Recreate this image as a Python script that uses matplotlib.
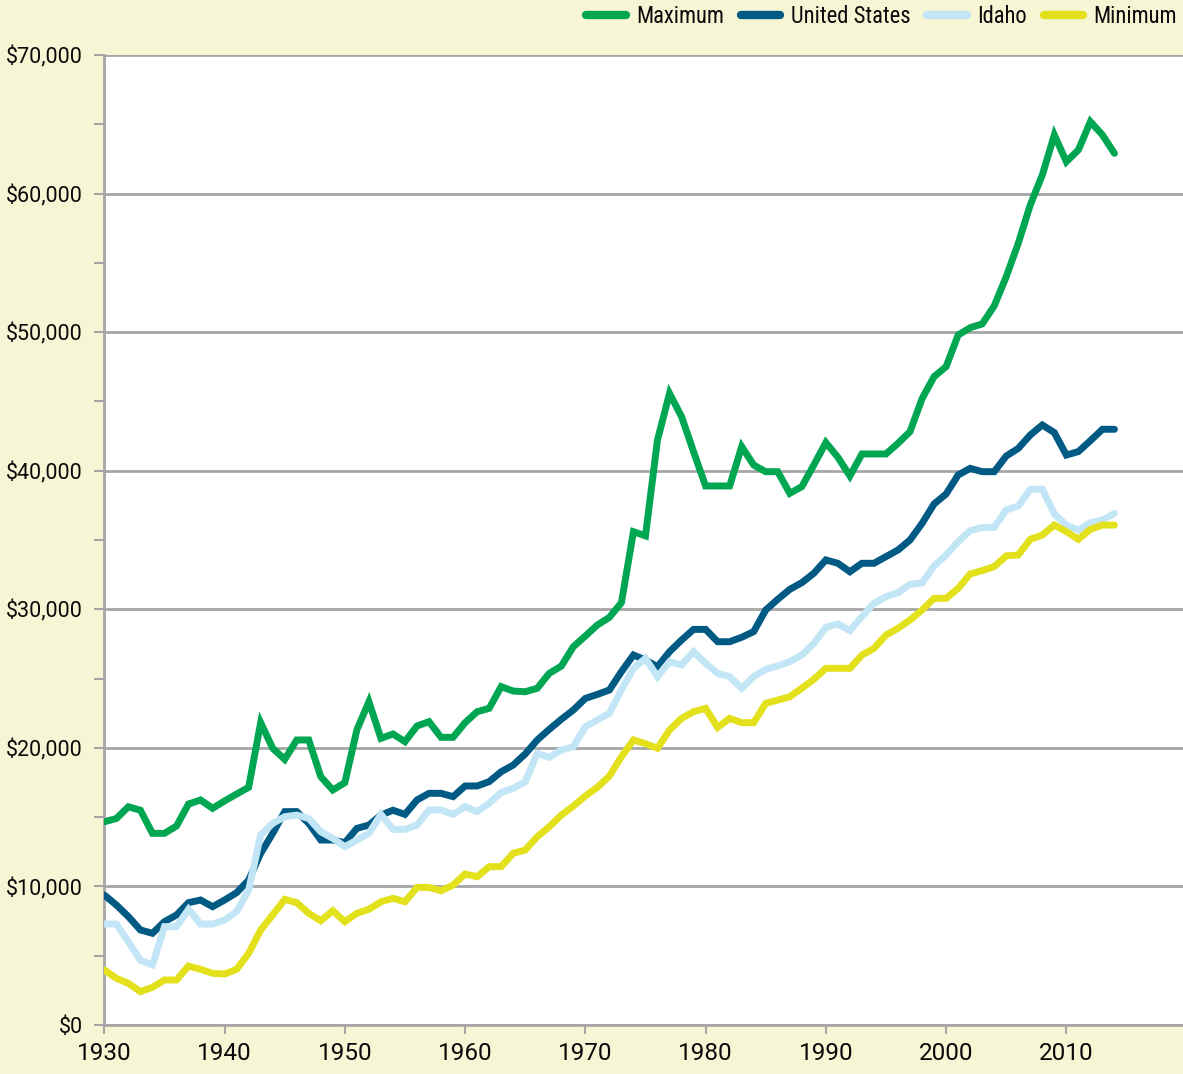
import numpy as np
import matplotlib
matplotlib.use("Agg")
import matplotlib.pyplot as plt
from matplotlib import font_manager
from matplotlib.ticker import MultipleLocator, StrMethodFormatter

# Jahreswerte 1930-2014, in Tausend Dollar
years = np.arange(1930, 2015)

maximum_k = [14.67, 14.9, 15.75, 15.5, 13.83, 13.83, 14.36, 15.95, 16.24, 15.64,
             16.17, 16.67, 17.15, 21.82, 19.97, 19.17, 20.57, 20.57, 17.92, 16.96,
             17.49, 21.3, 23.33, 20.69, 21.0, 20.45, 21.58, 21.89, 20.76, 20.76,
             21.82, 22.61, 22.85, 24.42, 24.1, 24.05, 24.3, 25.38, 25.9, 27.3,
             28.07, 28.87, 29.42, 30.48, 35.6, 35.3, 42.22, 45.58, 43.9, 41.37,
             38.9, 38.9, 38.9, 41.74, 40.41, 39.93, 39.93, 38.37, 38.85, 40.41,
             42.03, 40.97, 39.62, 41.21, 41.21, 41.21, 41.98, 42.82, 45.2, 46.79,
             47.51, 49.79, 50.32, 50.59, 51.89, 54.0, 56.41, 59.18, 61.34, 64.23,
             62.3, 63.15, 65.19, 64.23, 62.9]

us_k = [9.38, 8.66, 7.82, 6.86, 6.62, 7.46, 7.94, 8.83, 9.02, 8.54,
        9.02, 9.55, 10.46, 12.39, 13.83, 15.4, 15.4, 14.55, 13.35, 13.35,
        13.16, 14.19, 14.43, 15.15, 15.5, 15.2, 16.24, 16.72, 16.72, 16.48,
        17.25, 17.25, 17.56, 18.28, 18.76, 19.56, 20.57, 21.34, 22.06, 22.73,
        23.57, 23.86, 24.18, 25.5, 26.7, 26.34, 25.86, 26.94, 27.78, 28.55,
        28.55, 27.66, 27.66, 27.98, 28.39, 29.95, 30.72, 31.44, 31.92, 32.6,
        33.56, 33.32, 32.71, 33.32, 33.32, 33.8, 34.28, 35.0, 36.2, 37.6,
        38.32, 39.69, 40.17, 39.93, 39.93, 41.06, 41.61, 42.58, 43.3, 42.75,
        41.13, 41.38, 42.17, 42.99, 42.99]

idaho_k = [7.29, 7.29, 6.01, 4.69, 4.33, 7.1, 7.1, 8.35, 7.29, 7.29,
           7.58, 8.18, 9.74, 13.71, 14.55, 15.03, 15.15, 14.91, 13.95, 13.47,
           12.87, 13.35, 13.83, 15.2, 14.12, 14.12, 14.43, 15.52, 15.52, 15.2,
           15.76, 15.4, 16.0, 16.79, 17.08, 17.56, 19.6, 19.32, 19.85, 20.09,
           21.53, 22.01, 22.49, 24.18, 25.74, 26.46, 25.14, 26.22, 25.98, 26.94,
           26.1, 25.38, 25.14, 24.3, 25.14, 25.67, 25.91, 26.22, 26.7, 27.54,
           28.7, 28.94, 28.46, 29.47, 30.43, 30.91, 31.2, 31.8, 31.9, 33.12,
           33.92, 34.88, 35.67, 35.91, 35.91, 37.17, 37.45, 38.66, 38.66, 36.88,
           36.08, 35.72, 36.25, 36.44, 36.92]

minimum_k = [3.97, 3.37, 3.01, 2.41, 2.72, 3.25, 3.25, 4.26, 4.02, 3.73,
             3.68, 4.02, 5.17, 6.86, 7.94, 9.07, 8.83, 8.06, 7.53, 8.25,
             7.46, 8.06, 8.35, 8.9, 9.14, 8.9, 9.93, 9.93, 9.69, 10.1,
             10.9, 10.7, 11.43, 11.43, 12.39, 12.63, 13.59, 14.31, 15.15, 15.8,
             16.53, 17.15, 17.97, 19.36, 20.57, 20.3, 19.97, 21.29, 22.13, 22.61,
             22.85, 21.48, 22.13, 21.82, 21.82, 23.21, 23.45, 23.69, 24.3, 24.95,
             25.74, 25.74, 25.74, 26.7, 27.18, 28.14, 28.63, 29.23, 29.95, 30.79,
             30.79, 31.51, 32.55, 32.79, 33.08, 33.85, 33.92, 35.05, 35.36, 36.08,
             35.6, 35.05, 35.77, 36.08, 36.08]

labels = ["Maximum", "United States", "Idaho", "Minimum"]
colors = ["#00a651", "#005a83", "#c3e6f6", "#e3e01c"]

bg = "#f6f5d4"
grid_col = "#a6a6a6"

names = {f.name for f in font_manager.fontManager.ttflist}
plt.rcParams["font.family"] = ["Roboto", "DejaVu Sans"]
leg_font = "Roboto Condensed" if "Roboto Condensed" in names else "Roboto"

fig = plt.figure(figsize=(11.83, 10.74), dpi=100, facecolor=bg)
ax = fig.add_axes([0.0882, 0.0456, 0.9118, 0.9032])
ax.set_facecolor("white")

series = [maximum_k, us_k, idaho_k, minimum_k]
for vals, lab, col in zip(series, labels, colors):
    ax.plot(years, np.array(vals) * 1000, color=col, lw=5, label=lab,
            solid_capstyle="round", solid_joinstyle="miter", zorder=3)

ax.set_xlim(1930, 2019.7)
ax.set_ylim(0, 70000)
ax.xaxis.set_major_locator(MultipleLocator(10))
ax.yaxis.set_major_locator(MultipleLocator(10000))
ax.yaxis.set_minor_locator(MultipleLocator(5000))
ax.yaxis.set_major_formatter(StrMethodFormatter("${x:,.0f}"))

ax.yaxis.grid(True, color=grid_col, lw=2, zorder=1)
ax.get_ygridlines()[-1].set_visible(False)

for s in ["top", "right"]:
    ax.spines[s].set_visible(False)
for s in ["left", "bottom"]:
    ax.spines[s].set_color(grid_col)
    ax.spines[s].set_linewidth(2)

ax.tick_params(axis="y", which="both", length=7.5, width=1.5, color=grid_col,
               labelsize=15.5, pad=8, labelcolor="#0a0a0a")
ax.tick_params(axis="x", length=6.5, width=1.5, color=grid_col,
               labelsize=17.5, pad=6, labelcolor="#0a0a0a")

leg = fig.legend(loc="upper right", bbox_to_anchor=(1.012, 1.014), ncol=4,
                 frameon=False, handlelength=1.75, handletextpad=0.45,
                 columnspacing=0.75, prop={"family": leg_font, "size": 16.3})
for t in leg.get_texts():
    t.set_color("#0a0a0a")
for h in leg.legend_handles:
    h.set_linewidth(6)

fig.savefig("out.png", dpi=100, facecolor=bg)
